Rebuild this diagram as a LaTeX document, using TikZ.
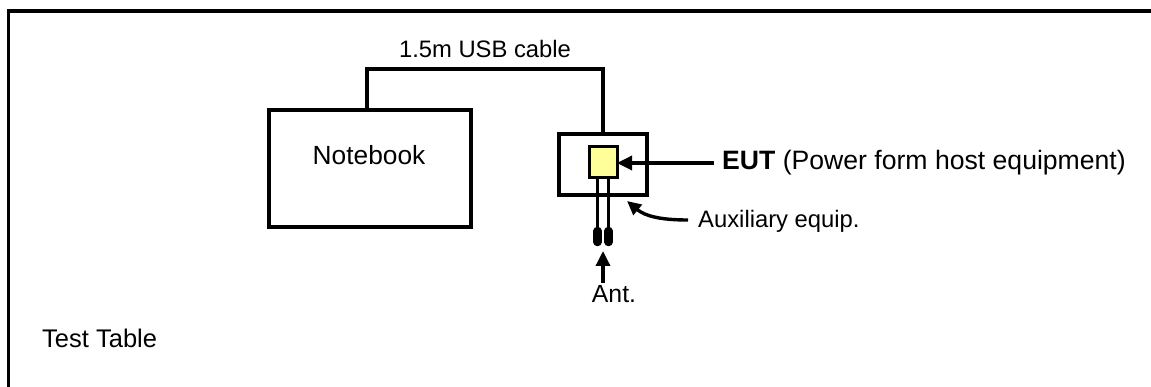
\documentclass[tikz,border=0pt]{standalone}
\usepackage{fontspec}
\setmainfont{Liberation Sans}
\usetikzlibrary{arrows.meta}
\begin{document}
\begin{tikzpicture}[x=1pt,y=-1pt,
  thick line/.style={line width=3.4pt},
  wire/.style={line width=3pt},
  plug/.style={line width=8.5pt,line cap=round},
  bigarrow/.style={line width=3.4pt,-{Triangle[length=15pt,width=14pt]}},
  lbl/.style={inner sep=0pt,font=\fontsize{25.5}{29}\selectfont},
  smalllbl/.style={inner sep=0pt,font=\fontsize{23.8}{27}\selectfont}]
\useasboundingbox (0,0) rectangle (1151,387);
\clip (0,0) rectangle (1151,387);
% frame (open beyond the image)
\draw[thick line] (8.5,400) -- (8.5,11) -- (1170,11);
% notebook
\draw[thick line] (269,110) rectangle (471,227);
\node[inner sep=0pt,anchor=base,font=\fontsize{26.3}{30}\selectfont] (nb) at (369,165) {Notebook};
\coordinate (nbtop) at (367,110);
% auxiliary box and EUT
\draw[thick line] (559,134) rectangle (647,195);
\coordinate (auxtop) at (603,134);
\draw[line width=3pt,fill={rgb,255:red,255;green,255;blue,153}] (589,147) rectangle (617,178);
\coordinate (eutE) at (617,163);
% cable
\draw[thick line] (nbtop) -- (367,69) -- (603,69) -- (auxtop);
\node[smalllbl,anchor=base] (cable) at (485,58) {1.5m USB cable};
% antenna wires and plugs
\draw[wire] (597.5,178) -- (597.5,232);
\draw[wire] (608.5,178) -- (608.5,232);
\draw[plug] (597.5,231) -- (597.5,242);
\draw[plug] (608.5,231) -- (608.5,242);
% ant arrow
\node[inner sep=0pt,anchor=base,font=\fontsize{24.8}{29}\selectfont] (ant) at (614,303) {Ant.};
\coordinate (antS) at (603,283);
\coordinate (antT) at (603,251);
\draw[bigarrow] (antS) -- (antT);
% EUT arrow
\node[inner sep=0pt,anchor=base west,font=\fontsize{26.6}{30}\selectfont] (eut) at (722,170) {\textbf{EUT} (Power form host equipment)};
\coordinate (eutS) at (714,163);
\draw[bigarrow] (eutS) -- (eutE);
% auxiliary arrow
\node[smalllbl,anchor=base west] (aux) at (698,228) {Auxiliary equip.};
\coordinate (auxS) at (688,220);
\coordinate (auxT) at (627,201);
\draw[line width=3.4pt,-{Triangle[length=14pt,width=13pt]}] (auxS) .. controls (660,220) and (645,216) .. (auxT);
% test table
\node[lbl,anchor=base west] (tt) at (42,347) {Test Table};
\end{tikzpicture}
\end{document}
